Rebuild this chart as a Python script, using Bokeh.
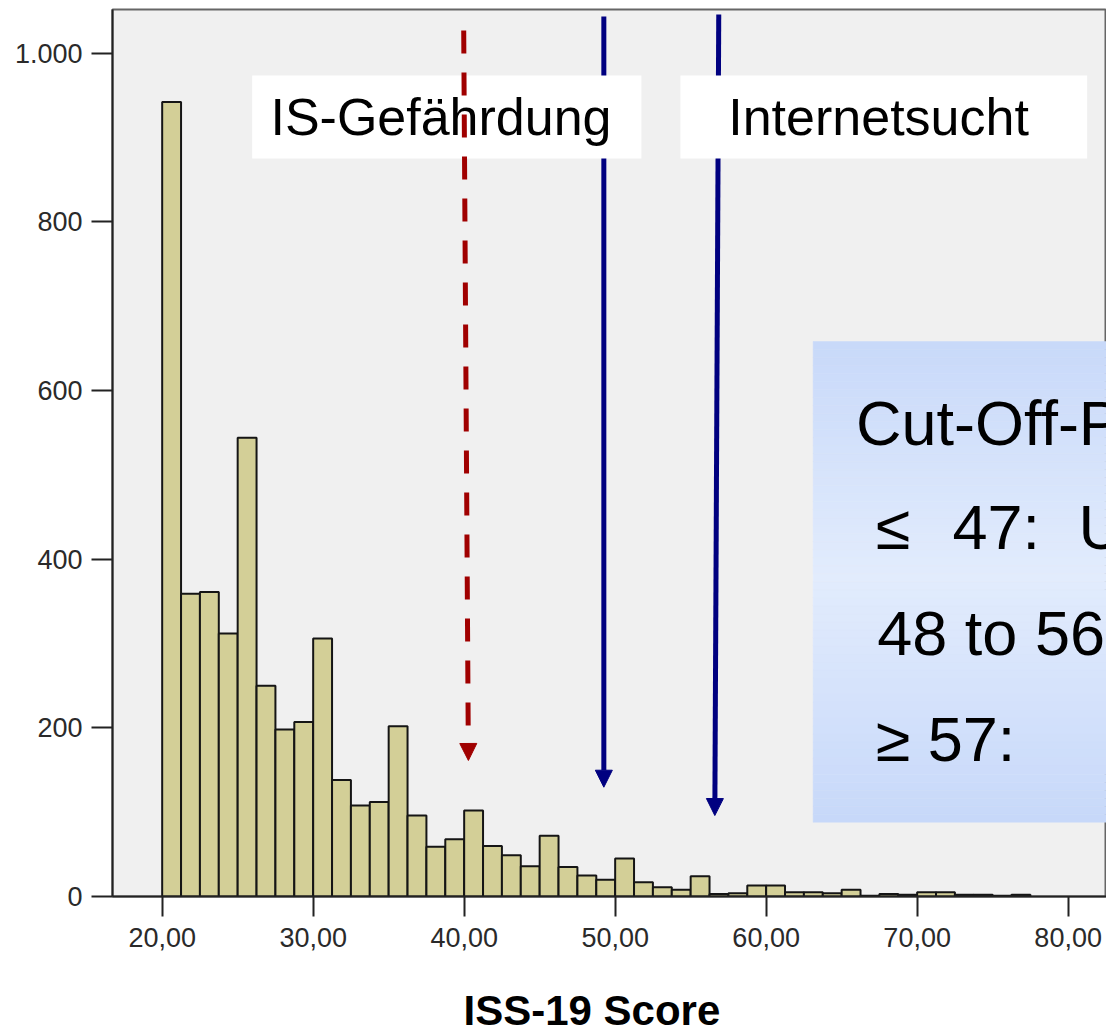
from bokeh.plotting import figure
from bokeh.models import Range1d, FixedTicker, Arrow, NormalHead, Title
from bokeh.core.properties import value
from bokeh.embed import file_html
from bokeh.resources import INLINE

# ---- data ----
bin_start = 20.0
bin_width = 1.25
counts = [942, 359, 361, 312, 544, 250, 198, 207, 306, 138, 108, 112, 202, 96, 59, 68,
          102, 60, 49, 36, 72, 35, 25, 20, 45, 17, 11, 8, 24, 3, 4, 13, 13, 5, 5, 4,
          8, 1, 3, 2, 5, 5, 2, 2, 1, 2]
x_ticks = [20, 30, 40, 50, 60, 70, 80]
x_tick_labels = ["20,00", "30,00", "40,00", "50,00", "60,00", "70,00", "80,00"]
y_ticks = [0, 200, 400, 600, 800, 1000]
y_tick_labels = ["0", "200", "400", "600", "800", "1.000"]
x_title = "ISS-19 Score"
marker_labels = ["IS-Gefährdung", "Internetsucht"]
box_texts = ["Cut-Off-P", "≤", "47:", "U", "48 to 56", "≥ 57:"]

FONT = "Liberation Sans"

bin_left = [bin_start + i * bin_width for i in range(len(counts))]
bin_right = [b + bin_width for b in bin_left]

p = figure(width=1106, height=1027, output_backend="svg", toolbar_location=None,
           x_range=Range1d(16.71, 82.54), y_range=Range1d(0, 1051.8),
           min_border_left=112, min_border_right=0, min_border_top=9,
           min_border_bottom=131)
p.background_fill_color = "#f0f0f0"
p.border_fill_color = "white"
p.outline_line_color = "#666666"
p.outline_line_width = 2
p.xgrid.visible = False
p.ygrid.visible = False

# axes
p.xaxis.ticker = FixedTicker(ticks=x_ticks)
p.xaxis.major_label_overrides = dict(zip(x_ticks, x_tick_labels))
p.yaxis.ticker = FixedTicker(ticks=y_ticks)
p.yaxis.major_label_overrides = dict(zip(y_ticks, y_tick_labels))
for ax in (p.xaxis, p.yaxis):
    ax.minor_tick_line_color = None
    ax.major_tick_in = 0
    ax.major_tick_line_color = "#222222"
    ax.major_tick_line_width = 2
    ax.axis_line_color = "#222222"
    ax.axis_line_width = 2
    ax.major_label_text_font = FONT
    ax.major_label_text_font_size = "27px"
    ax.major_label_text_color = "#2a2a2a"
p.xaxis.major_tick_out = 20
p.xaxis.major_label_standoff = 11
p.yaxis.major_tick_out = 21
p.yaxis.major_label_standoff = 9
# blank spacer label so that the title sits low under the axis
p.xaxis.axis_label = " "
p.xaxis.axis_label_text_font_size = "10px"
p.xaxis.axis_label_standoff = 31

# x axis title
p.add_layout(Title(text=x_title, align="left", offset=351, standoff=-16,
                   text_font=FONT, text_font_size="42px", text_font_style="bold",
                   text_color="black", vertical_align="top"), "below")

# histogram bars
p.quad(left=bin_left, right=bin_right, bottom=0, top=counts,
       fill_color="#d3cf97", line_color="#151515", line_width=2)

# blue arrows (beneath the white label boxes)
BLUE = "#000080"
RED = "#a00000"
for xs, ys, xe, ye in [(49.25, 1043.5, 49.25, 129.6), (56.86, 1045.9, 56.60, 96.0)]:
    p.add_layout(Arrow(end=NormalHead(size=17, fill_color=BLUE, line_color=BLUE),
                       x_start=xs, y_start=ys, x_end=xe, y_end=ye,
                       line_color=BLUE, line_width=5, level="underlay"))

# white label boxes
p.quad(left=[25.96, 54.32], right=[51.74, 81.26], top=[973.6, 973.6],
       bottom=[875.1, 875.1], fill_color="white", line_color=None)
p.text(x=[27.17, 57.49], y=[924, 924], text=marker_labels,
       text_font=value(FONT), text_font_size="52px", text_color="black",
       text_baseline="alphabetic", text_align="left")

# blue gradient box
box_l, box_r, box_t, box_b = 63.11, 90.0, 658.1, 88.1
edge = (199, 216, 249)
mid = (226, 236, 253)
n = 60
sl, sr, st, sb, sc = [], [], [], [], []
for i in range(n):
    f = (i + 0.5) / n
    t = abs(f - 0.49) / 0.51
    c = tuple(int(round(mid[k] + (edge[k] - mid[k]) * t)) for k in range(3))
    sl.append(box_l)
    sr.append(box_r)
    st.append(box_t - (box_t - box_b) * i / n)
    sb.append(box_t - (box_t - box_b) * (i + 1) / n)
    sc.append("#%02x%02x%02x" % c)
p.quad(left=sl, right=sr, top=st, bottom=sb, fill_color=sc, line_color=sc, line_width=0.5)

p.text(x=[65.95, 67.25, 72.34, 80.68, 67.36, 67.25],
       y=[561.3, 438.7, 438.7, 438.7, 313.0, 186.6],
       text=box_texts, text_font=value(FONT), text_font_size="63px",
       text_color="black", text_baseline="alphabetic", text_align="left")

# red dashed arrow (drawn above the label box)
p.add_layout(Arrow(end=NormalHead(size=17, fill_color=RED, line_color=RED),
                   x_start=39.97, y_start=1026.9, x_end=40.28, y_end=161.3,
                   line_color=RED, line_width=5, line_dash="23 19"))

open("out.html", "w").write(file_html(p, INLINE))
